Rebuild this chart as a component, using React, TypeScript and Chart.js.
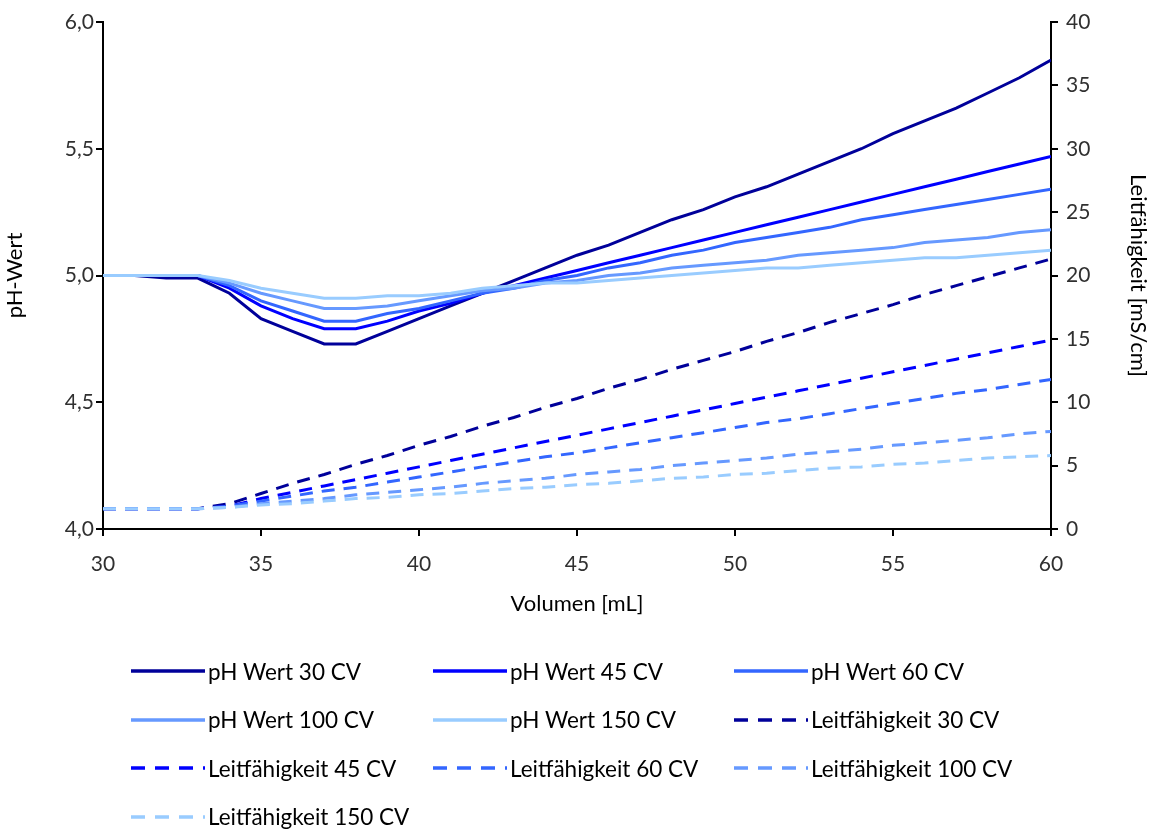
import React, { useEffect, useRef } from "react";
import { Chart, registerables } from "chart.js";

Chart.register(...registerables);

// Elution volume in mL
const volume = [30, 31, 32, 33, 34, 35, 36, 37, 38, 39, 40, 41, 42, 43, 44, 45, 46, 47, 48, 49, 50, 51, 52, 53, 54, 55, 56, 57, 58, 59, 60];

// pH values per column-volume setting
const ph30 = [5.0, 5.0, 4.99, 4.99, 4.93, 4.83, 4.78, 4.73, 4.73, 4.78, 4.83, 4.88, 4.93, 4.98, 5.03, 5.08, 5.12, 5.17, 5.22, 5.26, 5.31, 5.35, 5.4, 5.45, 5.5, 5.56, 5.61, 5.66, 5.72, 5.78, 5.85];
const ph45 = [5.0, 5.0, 5.0, 5.0, 4.95, 4.88, 4.83, 4.79, 4.79, 4.82, 4.86, 4.89, 4.93, 4.96, 4.99, 5.02, 5.05, 5.08, 5.11, 5.14, 5.17, 5.2, 5.23, 5.26, 5.29, 5.32, 5.35, 5.38, 5.41, 5.44, 5.47];
const ph60 = [5.0, 5.0, 5.0, 5.0, 4.96, 4.9, 4.86, 4.82, 4.82, 4.85, 4.87, 4.9, 4.93, 4.95, 4.98, 5.0, 5.03, 5.05, 5.08, 5.1, 5.13, 5.15, 5.17, 5.19, 5.22, 5.24, 5.26, 5.28, 5.3, 5.32, 5.34];
const ph100 = [5.0, 5.0, 5.0, 5.0, 4.97, 4.93, 4.9, 4.87, 4.87, 4.88, 4.9, 4.92, 4.94, 4.95, 4.97, 4.98, 5.0, 5.01, 5.03, 5.04, 5.05, 5.06, 5.08, 5.09, 5.1, 5.11, 5.13, 5.14, 5.15, 5.17, 5.18];
const ph150 = [5.0, 5.0, 5.0, 5.0, 4.98, 4.95, 4.93, 4.91, 4.91, 4.92, 4.92, 4.93, 4.95, 4.96, 4.97, 4.97, 4.98, 4.99, 5.0, 5.01, 5.02, 5.03, 5.03, 5.04, 5.05, 5.06, 5.07, 5.07, 5.08, 5.09, 5.1];

// Conductivity in mS/cm
const lf30 = [1.6, 1.6, 1.6, 1.6, 2.0, 2.8, 3.6, 4.3, 5.1, 5.8, 6.6, 7.3, 8.1, 8.8, 9.6, 10.3, 11.1, 11.8, 12.6, 13.3, 14.0, 14.8, 15.5, 16.3, 17.0, 17.7, 18.5, 19.2, 19.9, 20.6, 21.3];
const lf45 = [1.6, 1.6, 1.6, 1.6, 1.8, 2.4, 2.9, 3.4, 3.9, 4.4, 4.9, 5.4, 5.9, 6.4, 6.9, 7.4, 7.9, 8.4, 8.9, 9.4, 9.9, 10.4, 10.9, 11.4, 11.9, 12.4, 12.9, 13.4, 13.9, 14.4, 14.9];
const lf60 = [1.6, 1.6, 1.6, 1.6, 1.8, 2.2, 2.6, 3.0, 3.3, 3.7, 4.1, 4.5, 4.9, 5.3, 5.7, 6.0, 6.4, 6.8, 7.2, 7.6, 8.0, 8.4, 8.7, 9.1, 9.5, 9.9, 10.3, 10.7, 11.0, 11.4, 11.8];
const lf100 = [1.6, 1.6, 1.6, 1.6, 1.7, 2.0, 2.2, 2.4, 2.7, 2.9, 3.1, 3.3, 3.6, 3.8, 4.0, 4.3, 4.5, 4.7, 5.0, 5.2, 5.4, 5.6, 5.9, 6.1, 6.3, 6.6, 6.8, 7.0, 7.2, 7.5, 7.7];
const lf150 = [1.6, 1.6, 1.6, 1.6, 1.7, 1.9, 2.0, 2.2, 2.4, 2.5, 2.7, 2.8, 3.0, 3.2, 3.3, 3.5, 3.6, 3.8, 4.0, 4.1, 4.3, 4.4, 4.6, 4.8, 4.9, 5.1, 5.2, 5.4, 5.6, 5.7, 5.8];

const cvLabels = ["30 CV", "45 CV", "60 CV", "100 CV", "150 CV"];
const seriesColors = ["#00009A", "#0000FF", "#3366FF", "#6699FF", "#99CCFF"];
const phSeries = [ph30, ph45, ph60, ph100, ph150];
const lfSeries = [lf30, lf45, lf60, lf100, lf150];

const FONT = "Lato, 'Open Sans', sans-serif";
const DASH = [13, 9];

type LegendItem = { label: string; color: string; dashed: boolean };

const legendItems: LegendItem[] = [
  ...cvLabels.map((cv, i) => ({ label: `pH Wert ${cv}`, color: seriesColors[i], dashed: false })),
  ...cvLabels.map((cv, i) => ({ label: `Leitfähigkeit ${cv}`, color: seriesColors[i], dashed: true })),
];

export default function App() {
  const canvasRef = useRef<HTMLCanvasElement | null>(null);

  useEffect(() => {
    document.body.style.margin = "0";
    const canvas = canvasRef.current;
    if (!canvas) return;

    const toPoints = (ys: number[]) => volume.map((x, i) => ({ x, y: ys[i] }));

    const datasets: any[] = [];
    phSeries.forEach((ys, i) => {
      datasets.push({
        label: `pH Wert ${cvLabels[i]}`,
        data: toPoints(ys),
        borderColor: seriesColors[i],
        borderWidth: 3,
        pointRadius: 0,
        tension: 0,
        yAxisID: "yPh",
      });
    });
    lfSeries.forEach((ys, i) => {
      datasets.push({
        label: `Leitfähigkeit ${cvLabels[i]}`,
        data: toPoints(ys),
        borderColor: seriesColors[i],
        borderWidth: 3,
        borderDash: DASH,
        pointRadius: 0,
        tension: 0,
        yAxisID: "yLf",
      });
    });
    // later datasets paint on top; keep the darker series above the lighter ones
    datasets.reverse();

    const tickFont = { family: FONT, size: 21 };
    const titleFont = { family: FONT, size: 22 };

    const chart = new Chart(canvas, {
      type: "line",
      data: { datasets },
      options: {
        animation: false,
        responsive: false,
        layout: { padding: { top: 22, bottom: 208, left: 0, right: 0 } },
        plugins: { legend: { display: false }, tooltip: { enabled: false } },
        scales: {
          x: {
            type: "linear",
            min: 30,
            max: 60,
            ticks: { stepSize: 5, color: "#303030", font: tickFont, padding: 16 },
            grid: { drawOnChartArea: false, drawTicks: true, tickLength: 7, color: "#000", lineWidth: 2 },
            border: { display: true, color: "#000", width: 2 },
            title: { display: true, text: "Volumen [mL]", color: "#000", font: titleFont, padding: { top: 2 } },
            afterFit: (s: any) => { s.height = 92; },
          },
          yPh: {
            type: "linear",
            position: "left",
            min: 4,
            max: 6,
            ticks: {
              stepSize: 0.5,
              color: "#303030",
              font: tickFont,
              padding: 2,
              callback: (v: any) => Number(v).toFixed(1).replace(".", ","),
            },
            grid: { drawOnChartArea: false, drawTicks: true, tickLength: 7, color: "#000", lineWidth: 2 },
            border: { display: true, color: "#000", width: 2 },
            title: { display: true, text: "pH-Wert", color: "#000", font: titleFont, padding: { top: 2 } },
            afterFit: (s: any) => { s.width = 103; },
          },
          yLf: {
            type: "linear",
            position: "right",
            min: 0,
            max: 40,
            ticks: { stepSize: 5, color: "#303030", font: tickFont, padding: 8 },
            grid: { drawOnChartArea: false, drawTicks: true, tickLength: 7, color: "#000", lineWidth: 2 },
            border: { display: true, color: "#000", width: 2 },
            title: { display: true, text: "Leitfähigkeit [mS/cm]", color: "#000", font: titleFont, padding: { top: 8 } },
            afterFit: (s: any) => { s.width = 108; },
          },
        },
      },
    });

    return () => chart.destroy();
  }, []);

  return (
    <div style={{ position: "absolute", left: 0, top: 0, width: 1159, height: 829, background: "#fff" }}>
      <canvas ref={canvasRef} width={1159} height={829} style={{ display: "block" }} />
      <div
        style={{
          position: "absolute",
          left: 130,
          top: 654,
          display: "grid",
          gridTemplateColumns: "302px 301px 300px",
          gridAutoRows: "48.5px",
          fontFamily: FONT,
          fontSize: 22.5,
          color: "#000",
        }}
      >
        {legendItems.map((it) => (
          <div key={it.label} style={{ display: "flex", alignItems: "center", height: 34 }}>
            <svg width={76} height={6} style={{ marginRight: 2, flex: "none" }}>
              <line
                x1={1}
                y1={3}
                x2={75}
                y2={3}
                stroke={it.color}
                strokeWidth={3.5}
                strokeDasharray={it.dashed ? "14 10" : undefined}
              />
            </svg>
            <span style={{ whiteSpace: "nowrap" }}>{it.label}</span>
          </div>
        ))}
      </div>
    </div>
  );
}
